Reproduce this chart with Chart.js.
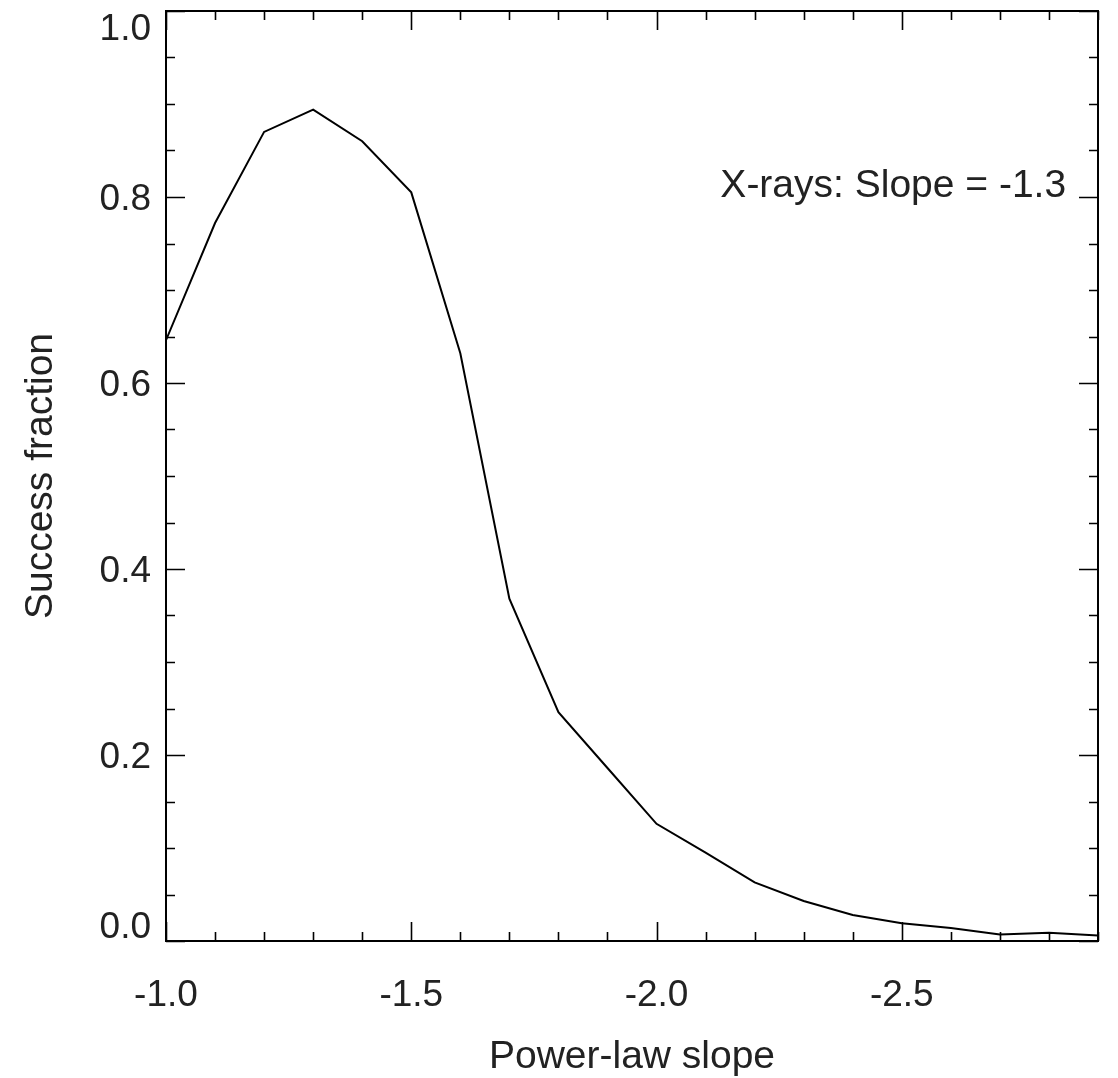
<!DOCTYPE html>
<html>
<head>
<meta charset="utf-8">
<script src="https://cdn.jsdelivr.net/npm/chart.js@4/dist/chart.umd.min.js"></script>
<style>
  html, body { margin: 0; padding: 0; background: #fff; }
  canvas { display: block; }
</style>
</head>
<body>
<canvas id="c" width="1118" height="1078"></canvas>
<script>
// ---- data ----
const slopes = [-1.0, -1.1, -1.2, -1.3, -1.4, -1.5, -1.6, -1.7, -1.8, -1.9,
                -2.0, -2.1, -2.2, -2.3, -2.4, -2.5, -2.6, -2.7, -2.8, -2.9];
const successFraction = [0.646, 0.772, 0.870, 0.894, 0.860, 0.805, 0.632, 0.368, 0.246, 0.186,
                         0.126, 0.095, 0.063, 0.043, 0.028, 0.019, 0.014, 0.007, 0.009, 0.006];
const xTickValues = [-1.0, -1.5, -2.0, -2.5];
const yTickValues = [0.0, 0.2, 0.4, 0.6, 0.8, 1.0];
const xRange = [-2.9, -1.0];
const yRange = [0.0, 1.0];
const annotationText = 'X-rays: Slope = -1.3';
const annotationAt = { x: -2.835, y: 0.8 };
const xTitle = 'Power-law slope';
const yTitle = 'Success fraction';

const FONT = "'Liberation Sans', Arial, Helvetica, sans-serif";
const TEXT = '#222';

const points = slopes.map((s, i) => ({ x: s, y: successFraction[i] }));

const frameAndTicks = {
  id: 'frameAndTicks',
  afterDatasetsDraw(chart) {
    const { ctx, chartArea: a, scales: { x, y } } = chart;
    ctx.save();
    ctx.strokeStyle = '#000';
    ctx.lineWidth = 2;
    ctx.strokeRect(a.left, a.top, a.right - a.left, a.bottom - a.top);
    ctx.lineWidth = 1.6;
    ctx.beginPath();
    // x minor every 0.1, major every 0.5
    for (let i = 0; i <= 19; i++) {
      const v = -1.0 - i * 0.1;
      const major = i % 5 === 0;
      const len = major ? 19 : 9;
      const px = Math.round(x.getPixelForValue(v)) + 0.5;
      ctx.moveTo(px, a.bottom); ctx.lineTo(px, a.bottom - len);
      ctx.moveTo(px, a.top); ctx.lineTo(px, a.top + len);
    }
    // y minor every 0.05, major every 0.2
    for (let i = 0; i <= 20; i++) {
      const v = i * 0.05;
      const major = i % 4 === 0;
      const len = major ? 19 : 9;
      const py = Math.round(y.getPixelForValue(v)) + 0.5;
      ctx.moveTo(a.left, py); ctx.lineTo(a.left + len, py);
      ctx.moveTo(a.right, py); ctx.lineTo(a.right - len, py);
    }
    ctx.stroke();
    // annotation
    ctx.fillStyle = TEXT;
    ctx.font = '39px ' + FONT;
    ctx.textAlign = 'right';
    ctx.textBaseline = 'alphabetic';
    ctx.fillText(annotationText, x.getPixelForValue(annotationAt.x), y.getPixelForValue(annotationAt.y));
    ctx.restore();
  }
};

new Chart(document.getElementById('c'), {
  type: 'line',
  data: {
    datasets: [{
      data: points,
      borderColor: '#000',
      borderWidth: 2,
      pointRadius: 0,
      tension: 0,
      fill: false
    }]
  },
  options: {
    responsive: false,
    animation: false,
    devicePixelRatio: 1,
    layout: { padding: { top: 11, right: 20, left: 0, bottom: 0 } },
    plugins: { legend: { display: false }, tooltip: { enabled: false } },
    scales: {
      x: {
        type: 'linear',
        min: xRange[0],
        max: xRange[1],
        reverse: true,
        grid: { display: false, drawTicks: false, tickLength: 0 },
        border: { display: false },
        afterBuildTicks: (s) => { s.ticks = xTickValues.map(v => ({ value: v })); },
        ticks: {
          autoSkip: false,
          maxRotation: 0,
          padding: 33,
          color: TEXT,
          font: { family: FONT, size: 37 },
          callback: (v) => Number(v).toFixed(1)
        },
        title: {
          display: true,
          text: xTitle,
          color: TEXT,
          font: { family: FONT, size: 39 },
          padding: { top: 0, bottom: -3 }
        },
        afterFit: (s) => { s.height = 137; s.paddingLeft = 0; s.paddingRight = 0; }
      },
      y: {
        type: 'linear',
        min: yRange[0],
        max: yRange[1],
        grid: { display: false, drawTicks: false, tickLength: 0 },
        border: { display: false },
        afterBuildTicks: (s) => { s.ticks = yTickValues.map(v => ({ value: v })); },
        ticks: {
          autoSkip: false,
          padding: 15,
          labelOffset: 3,
          color: TEXT,
          font: { family: FONT, size: 37, lineHeight: '32px' },
          callback: (v) => {
            const t = Number(v).toFixed(1);
            if (Math.abs(v - 1) < 1e-9) return ['', t];
            if (Math.abs(v) < 1e-9) return [t, ''];
            return t;
          }
        },
        title: {
          display: true,
          text: yTitle,
          color: TEXT,
          font: { family: FONT, size: 39 },
          padding: { top: 18, bottom: 0 }
        },
        afterFit: (s) => { s.width = 166; s.paddingTop = 0; s.paddingBottom = 0; }
      }
    }
  },
  plugins: [frameAndTicks]
});
</script>
</body>
</html>
